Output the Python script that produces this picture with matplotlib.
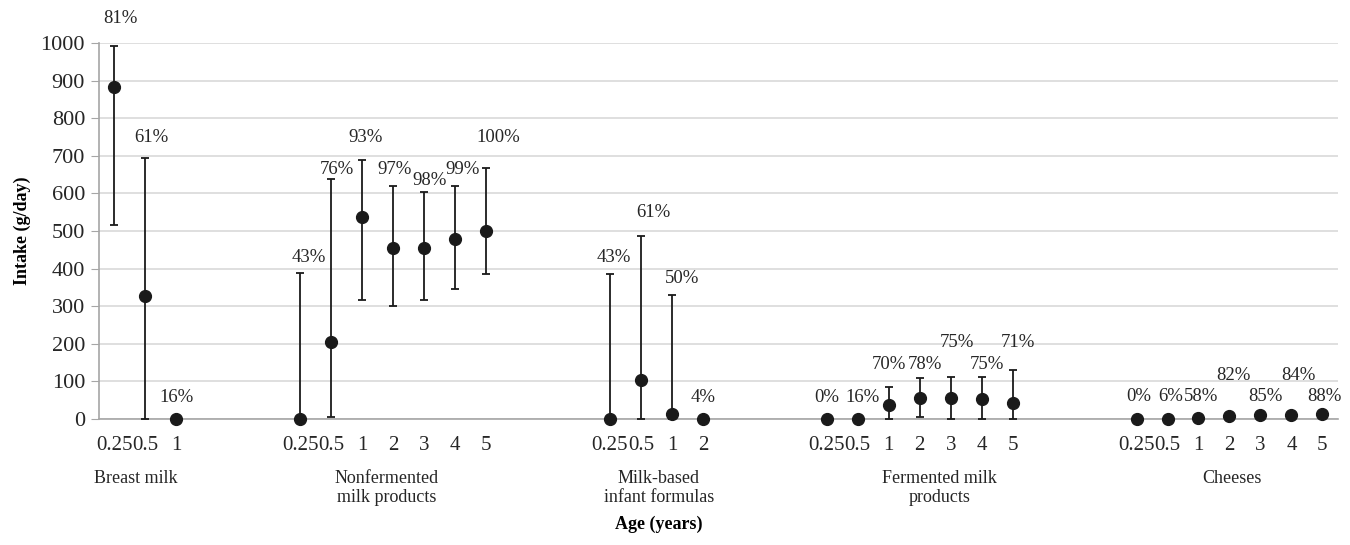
import numpy as np
import matplotlib
matplotlib.use("Agg")
import matplotlib.pyplot as plt

# food groups and ages (years)
groups = ["Breast milk", "Nonfermented\nmilk products", "Milk-based\ninfant formulas",
          "Fermented milk\nproducts", "Cheeses"]
ages = [
    ["0.25", "0.5", "1"],
    ["0.25", "0.5", "1", "2", "3", "4", "5"],
    ["0.25", "0.5", "1", "2"],
    ["0.25", "0.5", "1", "2", "3", "4", "5"],
    ["0.25", "0.5", "1", "2", "3", "4", "5"],
]

# intake (g/day): median, lower and upper bound
breast_mid = [884, 327, 0]
breast_lo = [516, 0, 0]
breast_hi = [993, 694, 0]
breast_pct = ["81%", "61%", "16%"]

nonferm_mid = [0, 204, 537, 456, 456, 478, 499]
nonferm_lo = [0, 5, 316, 301, 316, 345, 386]
nonferm_hi = [389, 638, 690, 619, 605, 619, 668]
nonferm_pct = ["43%", "76%", "93%", "97%", "98%", "99%", "100%"]

formula_mid = [0, 105, 13, 0]
formula_lo = [0, 0, 0, 0]
formula_hi = [387, 488, 329, 0]
formula_pct = ["43%", "61%", "50%", "4%"]

ferm_mid = [0, 0, 36, 57, 57, 52, 43]
ferm_lo = [0, 0, 0, 5, 0, 0, 0]
ferm_hi = [0, 0, 86, 109, 113, 111, 129]
ferm_pct = ["0%", "16%", "70%", "78%", "75%", "75%", "71%"]

cheese_mid = [0, 0, 2, 9, 10, 10, 12]
cheese_lo = [0, 0, 2, 9, 10, 10, 12]
cheese_hi = [0, 0, 2, 9, 10, 10, 12]
cheese_pct = ["0%", "6%", "58%", "82%", "85%", "84%", "88%"]

# placement of the percentage labels (layout only)
label_y = [
    [1066, 748, 58],
    [430, 663, 748, 663, 634, 663, 749],
    [430, 549, 375, 58],
    [58, 58, 145, 145, 203, 145, 203],
    [60, 60, 60, 116, 60, 116, 60],
]
label_dx = [  # pixels
    [7, 7, 0],
    [10, 6, 4, 2, 6, 8, 13],
    [4, 14, 11, 0],
    [0, 5, 0, 6, 7, 6, 6],
    [2, 3, 3, 4, 6, 8, 2],
]
group_label_shift = [-0.3, -0.2, 0.07, 0.65, 0.07]

mids = [breast_mid, nonferm_mid, formula_mid, ferm_mid, cheese_mid]
los = [breast_lo, nonferm_lo, formula_lo, ferm_lo, cheese_lo]
his = [breast_hi, nonferm_hi, formula_hi, ferm_hi, cheese_hi]
pcts = [breast_pct, nonferm_pct, formula_pct, ferm_pct, cheese_pct]

plt.rcParams["font.family"] = ["Liberation Serif", "DejaVu Serif"]

fig = plt.figure(figsize=(13.5, 5.45), dpi=100)
ax = fig.add_axes([0.0733, 0.2312, 0.9177, 0.6898])

gap = 2
pos = 0
tick_pos, tick_lab = [], []
dark = "#1a1a1a"
slot_px = 1239 / 36
for g in range(len(groups)):
    n = len(mids[g])
    x = np.arange(pos, pos + n)
    mid = np.array(mids[g])
    yerr = [mid - np.array(los[g]), np.array(his[g]) - mid]
    ax.errorbar(x, mid, yerr=yerr, fmt="o", color=dark, ms=8.5, capsize=3.2,
                elinewidth=1.3, capthick=1.3, zorder=3, clip_on=False)
    for xi, ly, dx, t in zip(x, label_y[g], label_dx[g], pcts[g]):
        ax.text(xi + dx / slot_px, ly, t, ha="center", va="center", fontsize=13.5,
                color="#262626", clip_on=False)
    tick_pos += list(x)
    tick_lab += ages[g]
    center = (x[0] + x[-1]) / 2 + group_label_shift[g]
    ax.text(center, -0.135, groups[g], transform=ax.get_xaxis_transform(),
            ha="center", va="top", fontsize=13, color="#262626", linespacing=1.15)
    pos += n + gap + 1

ax.set_xlim(-0.5, pos - gap - 1 - 0.5)
ax.set_ylim(0, 1000)
ax.set_yticks(np.arange(0, 1001, 100))
ax.set_xticks(tick_pos)
ax.set_xticklabels(tick_lab)
ax.tick_params(axis="x", length=0, labelsize=15, pad=12, colors="#262626")
ax.tick_params(axis="y", length=6, labelsize=16, pad=4, colors="#262626",
               color="#a6a6a6")
ax.grid(axis="y", color="#d9d9d9", lw=1.2)
ax.set_axisbelow(True)
for s in ["top", "right"]:
    ax.spines[s].set_visible(False)
for s in ["left", "bottom"]:
    ax.spines[s].set_color("#a6a6a6")
    ax.spines[s].set_linewidth(1.2)

ax.set_ylabel("Intake (g/day)", fontsize=13, fontweight="bold", labelpad=7)
fig.text(0.488, 0.037, "Age (years)", ha="center", va="center", fontsize=13,
         fontweight="bold")

fig.savefig("out.png", dpi=100)
